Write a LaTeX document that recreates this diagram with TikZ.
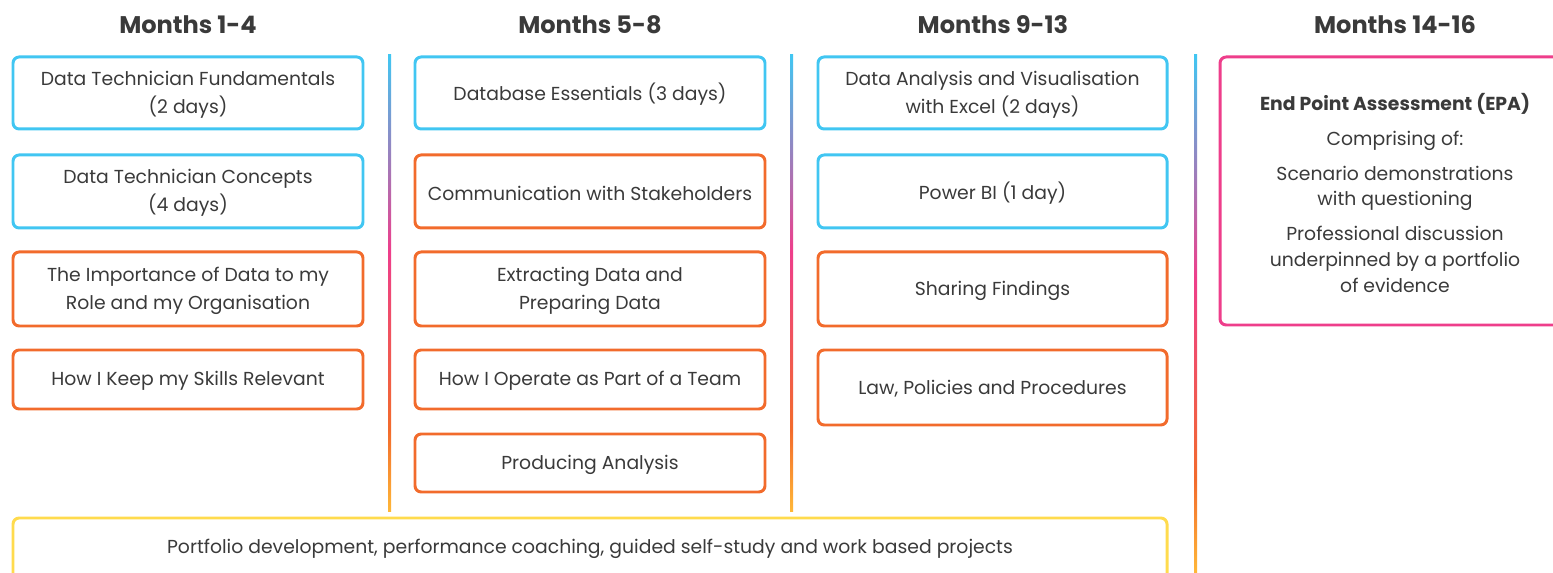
\documentclass[tikz,border=0pt]{standalone}
\usepackage{fontspec}
\setmainfont{Poppins}
\usetikzlibrary{calc}
\definecolor{skyblue}{HTML}{41C6F2}
\definecolor{burntorange}{HTML}{F26B2C}
\definecolor{hotpink}{HTML}{EE3E8B}
\definecolor{sunyellow}{HTML}{FFDB4D}
\definecolor{amber}{HTML}{FFB838}
\definecolor{inkgrey}{HTML}{3A3A3A}
\pgfdeclareverticalshading{divfade}{100bp}{color(0bp)=(amber); color(25bp)=(amber); color(34bp)=(burntorange); color(53.5bp)=(hotpink); color(75bp)=(skyblue); color(100bp)=(skyblue)}
\def\planbox[#1](#2)(#3)(#4)#5{\draw[#1] (#2) rectangle (#3); \node[boxtext] (#4) at ($(#2)!0.5!(#3)+(0,1.5)$) {#5};}

\begin{document}
\begin{tikzpicture}[x=0.02cm, y=-0.02cm,
		boxline/.style={line width=1.7pt, rounded corners=3.5pt},
		bluebox/.style={boxline, draw=skyblue},
		orangebox/.style={boxline, draw=burntorange},
		pinkbox/.style={boxline, draw=hotpink},
		yellowbox/.style={boxline, draw=sunyellow},
		boxtext/.style={text=inkgrey, align=center, inner sep=0pt, font=\fontsize{10.7}{16}\selectfont},
		heading/.style={text=inkgrey, inner sep=0pt, font=\bfseries\fontsize{13.7}{16}\selectfont},
		divider/.style={shading=divfade}]
		%%%%% START %%%%%
		
		\useasboundingbox (0, 0) rectangle (1553, 573);
		\clip (0, 0) rectangle (1553, 573);
		
		\node[heading] (m1) at (188, 25) {Months 1-4};
		\node[heading] (m2) at (590, 25) {Months 5-8};
		\node[heading] (m3) at (993, 25) {Months 9-13};
		\node[heading] (m4) at (1395, 25) {Months 14-16};
		
		\shade[divider] (388, 55) rectangle (391, 512);
		\shade[divider] (790, 55) rectangle (793, 512);
		\shade[divider] (1194, 55) rectangle (1197, 573);
		
		\planbox[bluebox](13, 57)(363, 129)(fund){Data Technician Fundamentals\\(2 days)}
		\planbox[bluebox](13, 155)(363, 228)(conc){Data Technician Concepts\\(4 days)}
		\planbox[orangebox](13, 252)(363, 326)(impo){The Importance of Data to my\\Role and my Organisation}
		\planbox[orangebox](13, 350)(363, 409)(skil){How I Keep my Skills Relevant}
		
		\planbox[bluebox](415, 57)(765, 129)(dbes){Database Essentials (3 days)}
		\planbox[orangebox](415, 155)(765, 228)(comm){Communication with Stakeholders}
		\planbox[orangebox](415, 252)(765, 326)(extr){Extracting Data and\\Preparing Data}
		\planbox[orangebox](415, 350)(765, 409)(team){How I Operate as Part of a Team}
		\planbox[orangebox](415, 434)(765, 492)(anal){Producing Analysis}
		
		\planbox[bluebox](818, 57)(1167, 129)(excl){Data Analysis and Visualisation\\with Excel (2 days)}
		\planbox[bluebox](818, 155)(1167, 228)(pwbi){Power BI (1 day)}
		\planbox[orangebox](818, 252)(1167, 326)(shar){Sharing Findings}
		\planbox[orangebox](818, 350)(1167, 425)(laws){Law, Policies and Procedures}
		
		\draw[pinkbox] (1220, 57) rectangle (1572, 325);
		\node[boxtext, font=\fontsize{10.7}{14.7}\selectfont] (epa) at (1395, 193) {\textbf{End Point Assessment (EPA)}\\[5pt]Comprising of:\\[5pt]Scenario demonstrations\\with questioning\\[5pt]Professional discussion\\underpinned by a portfolio\\of evidence};
		
		\planbox[yellowbox](13, 518)(1167, 590)(port){}
		\node[boxtext] (portxt) at (590, 549) {Portfolio development, performance coaching, guided self-study and work based projects};
		
		%%%%% END %%%%%
\end{tikzpicture}
\end{document}
